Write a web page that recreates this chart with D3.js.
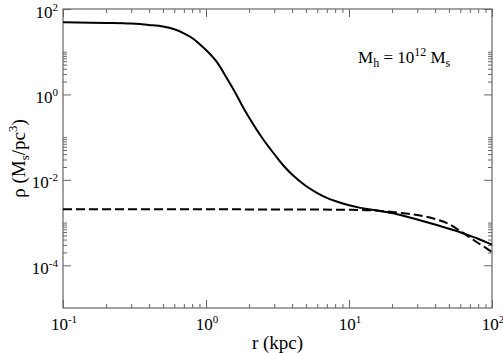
<!DOCTYPE html>
<html>
<head>
<meta charset="utf-8">
<script src="https://cdn.jsdelivr.net/npm/d3@7"></script>
<style>
  body { margin: 0; background: #fff; }
  svg { display: block; }
  text { font-family: "Liberation Serif", "Times New Roman", serif; fill: #000; }
</style>
</head>
<body>
<svg width="503" height="353"></svg>
<script>
// solid curve: total density
const rSolid = [0.1, 0.2, 0.3, 0.4, 0.5, 0.6, 0.7, 0.8, 0.9, 1.0, 1.2, 1.4, 1.6, 1.8, 2.0, 2.5, 3, 3.5, 4, 5, 6, 7, 8, 10, 12, 15, 20, 25, 30, 40, 50, 60, 70, 80, 90, 100];
const rhoSolid = [48.9, 47.3, 45.5, 42.2, 38.9, 33.5, 27.0, 20.9, 15.2, 10.96, 5.53, 2.38, 1.11, 0.527, 0.288, 0.0904, 0.0403, 0.0211, 0.0133, 0.00718, 0.00492, 0.00380, 0.00320, 0.00254, 0.00221, 0.00197, 0.00167, 0.00139, 0.00118, 9.0e-4, 7.18e-4, 5.92e-4, 4.90e-4, 4.17e-4, 3.54e-4, 3.05e-4];
// dashed curve: halo density
const rDashed = [0.1, 0.3, 1, 3, 10, 15, 20, 25, 30, 40, 50, 60, 70, 80, 90, 100];
const rhoDashed = [0.00204, 0.00204, 0.00204, 0.00203, 0.00199, 0.00192, 0.00177, 0.00163, 0.00150, 0.00121, 9.25e-4, 6.34e-4, 4.47e-4, 3.32e-4, 2.60e-4, 2.04e-4];

// tick labels (powers of ten)
const xExp = [-1, 0, 1, 2];
const yExp = [-4, -2, 0, 2];

const svg = d3.select("svg");
const area = { left: 63, right: 492, top: 9, bottom: 308 };
const frameColor = "#666";

const scX = d3.scaleLog().domain([0.1, 100]).range([area.left, area.right]);
const scY = d3.scaleLog().domain([1e-5, 1e2]).range([area.bottom, area.top]);

// minor tick positions
let xMinor = [];
for (let e of [-1, 0, 1]) {
  for (let m = 2; m <= 9; m++) xMinor.push(m * Math.pow(10, e));
}
let yMinor = [];
for (let e of [-4, -2, 0]) {
  for (let m = 2; m <= 10; m++) yMinor.push(m * Math.pow(10, e));
}
const xMajor = xExp.map(e => Math.pow(10, e));
const yMajor = yExp.map(e => Math.pow(10, e));

// axes, ticks pointing inward on all four sides
function drawTicks(axisFn, scale, values, size, transform) {
  const g = svg.append("g")
    .attr("transform", transform)
    .call(axisFn(scale).tickValues(values).tickSize(size).tickFormat(""));
  g.select(".domain").remove();
  g.selectAll("line").attr("stroke", frameColor).attr("stroke-width", 1);
}
drawTicks(d3.axisBottom, scX, xMajor, -8, `translate(0,${area.bottom})`);
drawTicks(d3.axisBottom, scX, xMinor, -4, `translate(0,${area.bottom})`);
drawTicks(d3.axisTop, scX, xMajor, -8, `translate(0,${area.top})`);
drawTicks(d3.axisTop, scX, xMinor, -4, `translate(0,${area.top})`);
drawTicks(d3.axisLeft, scY, yMajor, -8, `translate(${area.left},0)`);
drawTicks(d3.axisLeft, scY, yMinor, -4, `translate(${area.left},0)`);
drawTicks(d3.axisRight, scY, yMajor, -8, `translate(${area.right},0)`);
drawTicks(d3.axisRight, scY, yMinor, -4, `translate(${area.right},0)`);

svg.append("rect")
  .attr("x", area.left).attr("y", area.top)
  .attr("width", area.right - area.left).attr("height", area.bottom - area.top)
  .attr("fill", "none").attr("stroke", frameColor).attr("stroke-width", 1.2);

// tick labels 10^n
function powLabel(sel, e) {
  sel.append("tspan").text("10");
  sel.append("tspan").attr("dy", -7).attr("font-size", 11).text(e);
}
xExp.forEach(e => {
  const t = svg.append("text")
    .attr("x", scX(Math.pow(10, e)) + 1)
    .attr("y", 330)
    .attr("text-anchor", "middle")
    .attr("font-size", 17);
  powLabel(t, e);
});
yExp.forEach(e => {
  const t = svg.append("text")
    .attr("x", 58)
    .attr("y", scY(Math.pow(10, e)) + 8.5)
    .attr("text-anchor", "end")
    .attr("font-size", 17);
  powLabel(t, e);
});

// axis titles
svg.append("text")
  .attr("x", (area.left + area.right) / 2)
  .attr("y", 349)
  .attr("text-anchor", "middle")
  .attr("font-size", 19)
  .text("r (kpc)");

const yt = svg.append("text")
  .attr("transform", `translate(25,${(area.top + area.bottom) / 2}) rotate(-90)`)
  .attr("text-anchor", "middle")
  .attr("font-size", 19);
yt.append("tspan").text("ρ (M");
yt.append("tspan").attr("dy", 4).attr("font-size", 13).text("s");
yt.append("tspan").attr("dy", -4).text("/pc");
yt.append("tspan").attr("dy", -8).attr("font-size", 13).text("3");
yt.append("tspan").attr("dy", 8).text(")");

// annotation
const ann = svg.append("text")
  .attr("x", 358).attr("y", 63)
  .attr("font-size", 17);
ann.append("tspan").text("M");
ann.append("tspan").attr("dy", 4).attr("font-size", 12).text("h");
ann.append("tspan").attr("dy", -4).text(" = 10");
ann.append("tspan").attr("dy", -7).attr("font-size", 12).text("12");
ann.append("tspan").attr("dy", 7).text(" M");
ann.append("tspan").attr("dy", 4).attr("font-size", 12).text("s");

// curves
svg.append("clipPath").attr("id", "clip")
  .append("rect")
  .attr("x", area.left).attr("y", area.top)
  .attr("width", area.right - area.left).attr("height", area.bottom - area.top);

const line = d3.line()
  .x(d => scX(d[0]))
  .y(d => scY(d[1]))
  .curve(d3.curveMonotoneX);

svg.append("path")
  .datum(rSolid.map((r, i) => [r, rhoSolid[i]]))
  .attr("clip-path", "url(#clip)")
  .attr("d", line)
  .attr("fill", "none")
  .attr("stroke", "#000")
  .attr("stroke-width", 2);

svg.append("path")
  .datum(rDashed.map((r, i) => [r, rhoDashed[i]]))
  .attr("clip-path", "url(#clip)")
  .attr("d", line)
  .attr("fill", "none")
  .attr("stroke", "#000")
  .attr("stroke-width", 2)
  .attr("stroke-dasharray", "9,4");
</script>
</body>
</html>
